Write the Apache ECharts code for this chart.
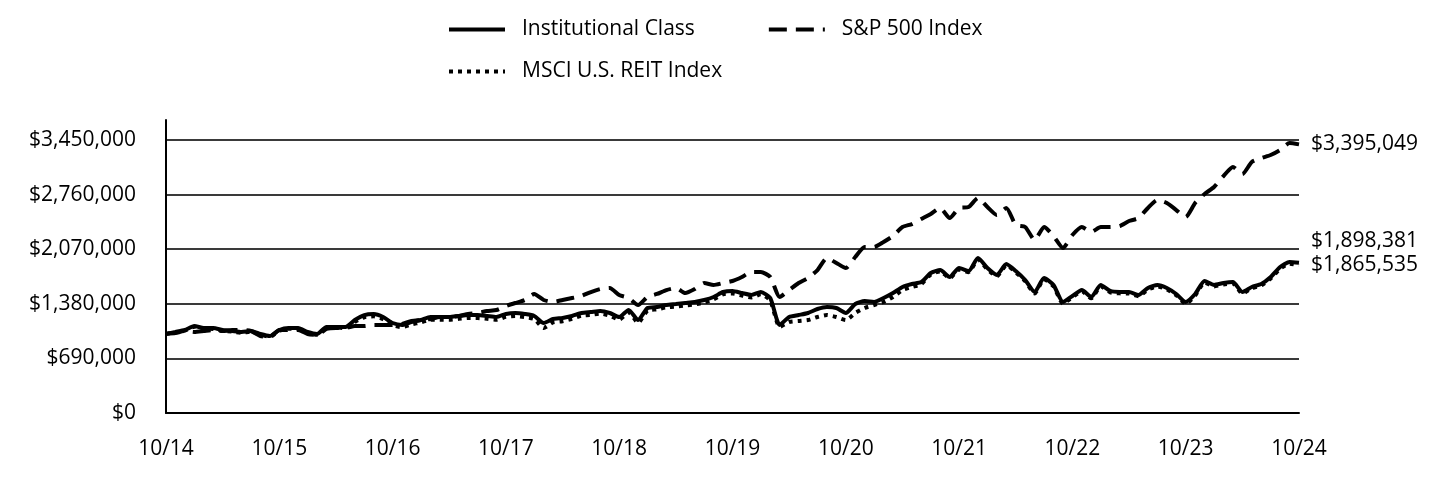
<!DOCTYPE html>
<html>
<head>
<meta charset="utf-8">
<script src="https://cdn.jsdelivr.net/npm/echarts@6/dist/echarts.min.js"></script>
<style>
html,body{margin:0;padding:0;background:#fff;}
#chart{width:1440px;height:480px;}
</style>
</head>
<body>
<div id="chart"></div>
<script>
// Month categories 10/14 .. 10/24
const categories = [
  '10/14','11/14','12/14','01/15','02/15','03/15','04/15','05/15','06/15','07/15','08/15','09/15',
  '10/15','11/15','12/15','01/16','02/16','03/16','04/16','05/16','06/16','07/16','08/16','09/16',
  '10/16','11/16','12/16','01/17','02/17','03/17','04/17','05/17','06/17','07/17','08/17','09/17',
  '10/17','11/17','12/17','01/18','02/18','03/18','04/18','05/18','06/18','07/18','08/18','09/18',
  '10/18','11/18','12/18','01/19','02/19','03/19','04/19','05/19','06/19','07/19','08/19','09/19',
  '10/19','11/19','12/19','01/20','02/20','03/20','04/20','05/20','06/20','07/20','08/20','09/20',
  '10/20','11/20','12/20','01/21','02/21','03/21','04/21','05/21','06/21','07/21','08/21','09/21',
  '10/21','11/21','12/21','01/22','02/22','03/22','04/22','05/22','06/22','07/22','08/22','09/22',
  '10/22','11/22','12/22','01/23','02/23','03/23','04/23','05/23','06/23','07/23','08/23','09/23',
  '10/23','11/23','12/23','01/24','02/24','03/24','04/24','05/24','06/24','07/24','08/24','09/24',
  '10/24'
];

const institutional = [
  1000000,1024000,1049000,1099000,1074000,1074000,1049000,1036000,1024000,1036000,
  998000,973000,1049000,1074000,1074000,1024000,998000,1087000,1087000,1087000,
  1175000,1238000,1251000,1213000,1137000,1112000,1150000,1175000,1213000,1213000,
  1213000,1226000,1238000,1238000,1226000,1213000,1251000,1264000,1251000,1226000,
  1137000,1188000,1201000,1226000,1264000,1276000,1289000,1264000,1213000,1302000,
  1175000,1327000,1340000,1365000,1377000,1390000,1403000,1428000,1466000,1529000,
  1542000,1516000,1491000,1529000,1453000,1112000,1213000,1238000,1264000,1314000,
  1340000,1327000,1264000,1377000,1415000,1403000,1453000,1516000,1592000,1630000,
  1655000,1769000,1807000,1719000,1832000,1794000,1959000,1832000,1744000,1883000,
  1794000,1681000,1529000,1706000,1618000,1403000,1479000,1554000,1466000,1618000,
  1542000,1529000,1529000,1491000,1580000,1618000,1580000,1504000,1403000,1504000,
  1668000,1618000,1643000,1655000,1529000,1592000,1630000,1719000,1845000,1908000,
  1898381
];

const sp500 = [
  1000000,1011000,1036000,1024000,1036000,1049000,1036000,1049000,1049000,1036000,
  973000,960000,1049000,1049000,1049000,998000,986000,1062000,1074000,1074000,
  1099000,1099000,1112000,1112000,1112000,1125000,1163000,1175000,1188000,1213000,
  1213000,1226000,1251000,1264000,1289000,1302000,1352000,1390000,1428000,1504000,
  1428000,1403000,1428000,1453000,1479000,1529000,1567000,1580000,1491000,1453000,
  1365000,1466000,1504000,1554000,1580000,1516000,1567000,1643000,1618000,1643000,
  1668000,1719000,1782000,1782000,1719000,1466000,1554000,1643000,1706000,1807000,
  1959000,1896000,1832000,1971000,2098000,2098000,2161000,2237000,2350000,2388000,
  2452000,2515000,2591000,2464000,2591000,2603000,2717000,2603000,2502000,2591000,
  2376000,2350000,2186000,2350000,2237000,2085000,2249000,2350000,2287000,2350000,
  2350000,2363000,2426000,2464000,2591000,2692000,2654000,2565000,2477000,2654000,
  2768000,2856000,2995000,3109000,3020000,3172000,3222000,3260000,3324000,3412000,
  3395049
];

const msciReit = [
  1000000,1018000,1040000,1090000,1066000,1062000,1040000,1028000,1014000,1027000,
  990000,962000,1040000,1065000,1062000,1012000,988000,1075000,1078000,1074000,
  1150000,1210000,1222000,1185000,1110000,1085000,1120000,1145000,1180000,1180000,
  1178000,1190000,1200000,1200000,1190000,1178000,1215000,1225000,1212000,1188000,
  1075000,1145000,1160000,1190000,1230000,1240000,1255000,1230000,1180000,1270000,
  1140000,1295000,1310000,1335000,1345000,1360000,1372000,1398000,1436000,1500000,
  1510000,1485000,1460000,1500000,1420000,1087000,1150000,1163000,1175000,1213000,
  1238000,1213000,1175000,1264000,1327000,1365000,1403000,1466000,1554000,1592000,
  1630000,1750000,1790000,1705000,1815000,1780000,1940000,1815000,1728000,1865000,
  1778000,1665000,1510000,1690000,1600000,1385000,1462000,1538000,1450000,1600000,
  1525000,1512000,1510000,1475000,1560000,1600000,1562000,1488000,1380000,1485000,
  1650000,1600000,1625000,1638000,1510000,1575000,1612000,1700000,1822000,1885000,
  1865535
];

const seriesNames = ['Institutional Class', 'S&P 500 Index', 'MSCI U.S. REIT Index'];
const yTicks = { min: 0, max: 3450000, interval: 690000 };

const FONT = '"Open Sans", "Noto Sans", sans-serif';
const FS = 21;
const fmtMoney = v => '$' + Math.round(v).toLocaleString('en-US');

const chart = echarts.init(document.getElementById('chart'), null, { renderer: 'canvas' });

const endLabelBase = {
  show: true,
  distance: 12,
  fontFamily: FONT,
  fontSize: FS,
  color: '#000',
  formatter: p => fmtMoney(p.value)
};

const legendText = { fontFamily: FONT, fontSize: FS, color: '#000', padding: [0, 0, 0, 12] };

chart.setOption({
  animation: false,
  backgroundColor: '#fff',
  textStyle: { fontFamily: FONT },
  legend: [
    {
      data: [seriesNames[0], seriesNames[1]],
      left: 442, top: 14,
      itemWidth: 56, itemHeight: 14, itemGap: 72,
      itemStyle: { opacity: 0 },
      lineStyle: { width: 4 },
      textStyle: legendText
    },
    {
      data: [seriesNames[2]],
      left: 442, top: 56,
      itemWidth: 56, itemHeight: 14,
      itemStyle: { opacity: 0 },
      lineStyle: { width: 4 },
      textStyle: legendText
    }
  ],
  grid: [
    { left: 166, right: 141, top: 140, bottom: 67, containLabel: false },
    { left: 166, right: 141, top: 120, bottom: 67, containLabel: false }
  ],
  xAxis: [
    {
      type: 'category',
      gridIndex: 0,
      data: categories,
      boundaryGap: false,
      axisLine: { show: true, lineStyle: { color: '#000', width: 2 } },
      axisTick: { show: false },
      axisLabel: { interval: 11, margin: 26, fontFamily: FONT, fontSize: FS, color: '#000' },
      splitLine: { show: false }
    },
    { type: 'value', gridIndex: 1, show: false }
  ],
  yAxis: [
    {
      type: 'value',
      gridIndex: 0,
      min: yTicks.min, max: yTicks.max, interval: yTicks.interval,
      axisLine: { show: false },
      axisTick: { show: false },
      axisLabel: { margin: 30, fontFamily: FONT, fontSize: FS, color: '#000', formatter: v => fmtMoney(v) },
      splitLine: { show: true, lineStyle: { color: '#3a3a3a', width: 2 } }
    },
    {
      type: 'value',
      gridIndex: 1,
      min: 0, max: 1,
      axisLine: { show: true, onZero: false, lineStyle: { color: '#000', width: 2 } },
      axisTick: { show: false },
      axisLabel: { show: false },
      splitLine: { show: false }
    }
  ],
  series: [
    {
      name: seriesNames[2],
      type: 'line',
      data: msciReit,
      symbol: 'none',
      smooth: 0.2,
      z: 2,
      lineStyle: { color: '#000', width: 4, type: [4, 5], cap: 'butt' },
      itemStyle: { color: '#000' },
      endLabel: Object.assign({}, endLabelBase, { offset: [0, 0] })
    },
    {
      name: seriesNames[1],
      type: 'line',
      data: sp500,
      symbol: 'none',
      smooth: 0.2,
      z: 3,
      lineStyle: { color: '#000', width: 4, type: [18, 9], cap: 'butt' },
      itemStyle: { color: '#000' },
      endLabel: Object.assign({}, endLabelBase, { offset: [0, 0] })
    },
    {
      name: seriesNames[0],
      type: 'line',
      data: institutional,
      symbol: 'none',
      smooth: 0.2,
      z: 4,
      lineStyle: { color: '#000', width: 4, type: 'solid' },
      itemStyle: { color: '#000' },
      endLabel: Object.assign({}, endLabelBase, { offset: [0, -22] })
    }
  ]
});
</script>
</body>
</html>
